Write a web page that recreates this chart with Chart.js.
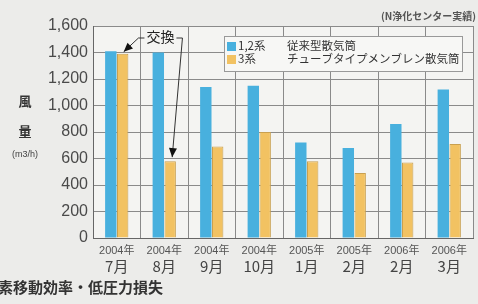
<!DOCTYPE html>
<html><head><meta charset="utf-8">
<script src="https://cdn.jsdelivr.net/npm/chart.js@4/dist/chart.umd.min.js"></script>
<style>
html,body{margin:0;padding:0;background:#ececea;}
#wrap{width:478px;height:304px;position:relative;}
</style></head>
<body><div id="wrap"><canvas id="c" width="478" height="304"></canvas></div>
<script>
const years = ["2004年","2004年","2004年","2004年","2005年","2005年","2006年","2006年"];
const months = ["7月","8月","9月","10月","1月","2月","2月","3月"];
const series12 = [1410,1400,1140,1150,720,680,860,1120];
const series3 = [1390,580,690,800,580,490,570,710];
const seriesNames = ["1,2系","3系"];
const seriesDesc = ["従来型散気筒","チューブタイプメンブレン散気筒"];
const yTicks = [0,200,400,600,800,1000,1200,1400,1600];

const FONT = "'Liberation Sans', 'Noto Sans CJK JP', sans-serif";
const JFONT = "'Noto Sans CJK JP', sans-serif";
const BLUE = '#48b0de', ORANGE = '#f2c262';

const bgPlugin = {
  id:'bg',
  beforeDraw(chart){
    const {ctx, chartArea:a} = chart;
    ctx.save();
    ctx.fillStyle = '#f4f4f2';
    ctx.fillRect(a.left, a.top, a.right-a.left, a.bottom-a.top);
    ctx.restore();
  }
};

const extras = {
  id:'extras',
  afterDraw(chart){
    const {ctx, chartArea:a} = chart;
    ctx.save();
    // y axis title
    ctx.fillStyle = '#333';
    ctx.textAlign = 'center'; ctx.textBaseline = 'middle';
    ctx.font = "bold 13px " + JFONT;
    ctx.fillText('風', 25, 101);
    ctx.fillText('量', 25, 131);
    ctx.font = "9px " + FONT;
    ctx.fillStyle = '#444';
    ctx.fillText('(m3/h)', 25, 155);
    // source note
    ctx.font = "bold 10px " + JFONT;
    ctx.fillStyle = '#555';
    ctx.textAlign = 'right';
    ctx.fillText('(N浄化センター実績)', 476, 16);
    // bottom heading
    ctx.font = "bold 15px " + JFONT;
    ctx.fillStyle = '#333';
    ctx.textAlign = 'left';
    ctx.fillText('素移動効率・低圧力損失', -2, 287);

    // legend box
    const lx = 224, ly = 36, lw = 238, lh = 35;
    ctx.fillStyle = '#f7f7f5';
    ctx.fillRect(lx, ly, lw, lh);
    ctx.strokeStyle = '#999'; ctx.lineWidth = 1;
    ctx.strokeRect(lx+0.5, ly+0.5, lw, lh);
    const cols = [BLUE, ORANGE];
    ctx.font = "11.5px " + JFONT;
    ctx.textBaseline = 'middle';
    for (let i=0;i<2;i++){
      const yy = ly + 10 + i*13;
      ctx.fillStyle = cols[i];
      ctx.fillRect(lx+3, yy-4, 9, 9);
      ctx.fillStyle = '#333';
      ctx.textAlign = 'left';
      ctx.fillText(seriesNames[i], lx+14, yy);
      ctx.fillText(seriesDesc[i], lx+63, yy);
    }

    // annotation 交換
    const m = chart.getDatasetMeta(1);
    const b0 = m.data[0], b1 = m.data[1];
    const tx = (b0.x + b1.x)/2 + 14, ty = 37;
    ctx.font = "14px " + JFONT;
    ctx.fillStyle = '#222';
    ctx.textAlign = 'center';
    ctx.fillText('交換', tx, ty);
    ctx.strokeStyle = '#333'; ctx.lineWidth = 1;
    const p0 = {x:b0.x+1, y:b0.y-2};
    const p1 = {x:b1.x+2, y:b1.y-4};
    ctx.beginPath();
    ctx.moveTo(tx-16, ty+1); ctx.lineTo(tx-22, ty+1); ctx.lineTo(p0.x, p0.y);
    ctx.moveTo(tx+16, ty+1); ctx.lineTo(tx+22, ty+1); ctx.lineTo(p1.x, p1.y);
    ctx.stroke();
    function head(from, to){
      const ang = Math.atan2(to.y-from.y, to.x-from.x);
      const L = 9, W = 4;
      ctx.beginPath();
      ctx.moveTo(to.x, to.y);
      ctx.lineTo(to.x - L*Math.cos(ang) + W*Math.sin(ang), to.y - L*Math.sin(ang) - W*Math.cos(ang));
      ctx.lineTo(to.x - L*Math.cos(ang) - W*Math.sin(ang), to.y - L*Math.sin(ang) + W*Math.cos(ang));
      ctx.closePath();
      ctx.fillStyle = '#111';
      ctx.fill();
    }
    head({x:tx-22,y:ty+1}, p0);
    head({x:tx+22,y:ty+1}, p1);
    ctx.restore();
  }
};

new Chart(document.getElementById('c'), {
  type:'bar',
  data:{
    labels: years,
    datasets:[
      {label: seriesNames[0]+' '+seriesDesc[0], data: series12, backgroundColor: BLUE, borderWidth:0, barPercentage:0.96, categoryPercentage:0.5, xAxisID:'x'},
      {label: seriesNames[1]+' '+seriesDesc[1], data: series3, backgroundColor: ORANGE, borderColor:'#c9a050', borderWidth:{left:1,right:1,top:1,bottom:0}, barPercentage:0.96, categoryPercentage:0.5, xAxisID:'x'}
    ]
  },
  options:{
    responsive:false,
    animation:false,
    devicePixelRatio:1,
    layout:{padding:{left:33, right:5, top:26, bottom:26}},
    plugins:{legend:{display:false}, tooltip:{enabled:false}},
    scales:{
      x:{
        type:'category', offset:true, weight:0,
        grid:{offset:true, color:'#8a8a8a', lineWidth:1, drawTicks:false},
        border:{color:'#666', width:1},
        ticks:{font:{family:FONT, size:11}, color:'#555', padding:6, maxRotation:0},
        afterFit(s){ s.height = 19; }
      },
      x2:{
        type:'category', axis:'x', position:'bottom', labels: months, offset:true, weight:1,
        grid:{display:false, drawTicks:false}, border:{display:false},
        ticks:{font:{family:JFONT, size:15}, color:'#444', padding:0, maxRotation:0},
        afterFit(s){ s.height = 21; }
      },
      y:{
        min:0, max:1600,
        afterBuildTicks(s){ s.ticks = yTicks.map(v=>({value:v})); },
        grid:{color:'#8a8a8a', lineWidth:1, drawTicks:false},
        border:{color:'#666', width:1},
        ticks:{font:{family:FONT, size:16}, color:'#4a4a4a', padding:5,
          callback:v=>v.toLocaleString('en-US')},
        afterFit(s){ s.width = 60; }
      }
    }
  },
  plugins:[bgPlugin, extras]
});
</script></body></html>
